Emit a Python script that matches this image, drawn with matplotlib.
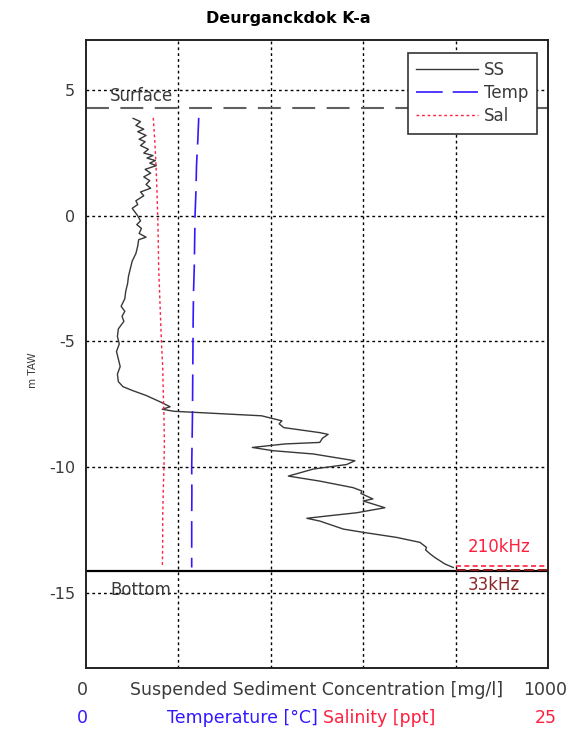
import matplotlib
matplotlib.use("Agg")
import matplotlib.pyplot as plt

plt.rcParams['font.family'] = ['DejaVu Sans']
plt.rcParams['axes.unicode_minus'] = False

# suspended sediment profile (depth m TAW, mg/l)
ss_depth = [3.88, 3.75, 3.6, 3.45, 3.35, 3.2, 3.05, 2.95, 2.8, 2.65, 2.5, 2.4, 2.3, 2.2, 2.1, 2.0,
            1.85, 1.7, 1.55, 1.4, 1.25, 1.1, 0.95, 0.8, 0.6, 0.45, 0.3, 0.15, 0.0, -0.2, -0.35, -0.5,
            -0.7, -0.85, -0.95, -1.2, -1.5, -1.8, -2.1, -2.4, -2.7, -3.0, -3.3, -3.6, -3.8, -4.0,
            -4.2, -4.5, -4.8, -5.1, -5.4, -5.7, -6.0, -6.3, -6.6, -6.8, -6.95, -7.15, -7.4, -7.6,
            -7.7, -7.78, -7.96, -8.16, -8.28, -8.43, -8.63, -8.7, -8.85, -9.02, -9.08, -9.22, -9.35,
            -9.48, -9.75, -9.9, -10.08, -10.36, -10.56, -10.82, -10.95, -11.05, -11.27, -11.35,
            -11.62, -11.82, -11.95, -12.04, -12.15, -12.47, -12.6, -12.8, -13.0, -13.2, -13.3,
            -13.46, -13.6, -13.86, -14.0]
ss_conc = [102, 118, 108, 125, 112, 130, 115, 128, 118, 135, 125, 145, 132, 150, 138, 152,
           128, 140, 125, 138, 130, 140, 118, 125, 108, 112, 100, 106, 112, 118, 110, 120,
           115, 130, 114, 112, 108, 100, 96, 92, 90, 86, 84, 76, 84, 78,
           82, 70, 68, 72, 66, 70, 74, 68, 70, 80, 100, 130, 160, 182,
           165, 190, 380, 424, 418, 428, 506, 524, 512, 506, 431, 360, 405,
           492, 582, 564, 492, 438, 506, 578, 597, 595, 621, 600,
           647, 586, 521, 478, 506, 557, 600, 672, 723, 737, 735,
           745, 755, 777, 795]

# temperature and salinity profiles
ts_depth = [3.9, 3.0, 2.0, 1.0, 0.0, -1.0, -2.0, -3.0, -4.0, -5.0, -6.0, -7.0, -8.0, -9.0,
            -10.0, -11.0, -12.0, -13.0, -14.0]
temp = [6.1, 6.05, 5.98, 5.95, 5.9, 5.88, 5.86, 5.82, 5.8, 5.79, 5.78, 5.77, 5.76, 5.74,
        5.72, 5.73, 5.72, 5.72, 5.72]
sal = [3.64, 3.72, 3.79, 3.84, 3.88, 3.91, 3.93, 3.98, 4.03, 4.08, 4.15, 4.18, 4.22, 4.24,
       4.22, 4.18, 4.15, 4.15, 4.13]

surface = 4.3
bottom = -14.12
f210 = -13.95
f33 = -14.08

txt = '#3a3a3a'
blue = '#3318ff'
red = '#ff2040'

fig = plt.figure(figsize=(5.78, 7.29), dpi=100)
ax = fig.add_axes([86/578, 1-668/729, 462/578, 628/729])
ax2 = ax.twiny()

ax.set_xlim(0, 1000)
ax.set_ylim(-18, 7)
ax2.set_xlim(0, 25)

grid_ls = (0, (2, 2.2))
ax.set_xticks([200, 400, 600, 800])
ax.set_yticks([-15, -10, -5, 0, 5])
ax.grid(True, color='black', linestyle=grid_ls, linewidth=1)
ax.set_xticklabels([])
ax.tick_params(axis='x', length=0)
ax.tick_params(axis='y', length=0, labelsize=11.5, colors=txt, pad=8)
ax2.set_xticks([])
for a in (ax, ax2):
    for s in a.spines.values():
        s.set_linewidth(1.2)
        s.set_color('#222222')

# reference lines
ax.axhline(surface, color='#606060', linestyle=(0, (11, 5.5)), linewidth=1.5)
ax.axhline(bottom, color='black', linewidth=1.6)
ax.plot([800, 1000], [f210, f210], color=red, linestyle=(0, (3, 2)), linewidth=1.2)
ax.plot([800, 1000], [f33, f33], color='#8b1a1a', linestyle=(0, (5, 2)), linewidth=1.4)

ax.text(52, 4.77, 'Surface', fontsize=12, color=txt, va='center')
ax.text(52, -14.9, 'Bottom', fontsize=12, color=txt, va='center')
ax.text(827, -13.2, '210kHz', fontsize=12, color=red, va='center')
ax.text(827, -14.7, '33kHz', fontsize=12, color='#8b2525', va='center')

l1, = ax.plot(ss_conc, ss_depth, color='#383838', linewidth=1.0, label='SS')
l2, = ax2.plot(temp, ts_depth, color=blue, linestyle=(0, (16, 6)), linewidth=1.2, label='Temp')
l3, = ax2.plot(sal, ts_depth, color=red, linestyle=(0, (2, 2)), linewidth=1.0, label='Sal')

leg = ax2.legend(handles=[l1, l2, l3], loc='upper right',
                 bbox_to_anchor=((537-86)/462, 1-(53-40)/628), borderaxespad=0,
                 fontsize=12, handlelength=3.7, handletextpad=0.4, labelspacing=0.3,
                 fancybox=False, framealpha=1, edgecolor='#333333', borderpad=0.5)
leg.get_frame().set_linewidth(1.2)
for t in leg.get_texts():
    t.set_color(txt)

fig.text(288/578, 1-18/729, 'Deurganckdok K-a', fontsize=11.5, fontweight='bold',
         ha='center', va='center')
fig.text(33/578, 1-370/729, 'm TAW', fontsize=7.5, rotation=90, ha='center', va='center',
         color=txt)

fig.text(82/578, 1-690/729, '0', fontsize=12.5, ha='center', va='center', color=txt)
fig.text(317/578, 1-690/729, 'Suspended Sediment Concentration [mg/l]', fontsize=12.5,
         ha='center', va='center', color=txt)
fig.text(567/578, 1-690/729, '1000', fontsize=12.5, ha='right', va='center', color=txt)
fig.text(82/578, 1-718/729, '0', fontsize=12.5, ha='center', va='center', color=blue)
fig.text(318/578, 1-718/729, 'Temperature [°C]', fontsize=12.5, ha='right', va='center',
         color=blue)
fig.text(323/578, 1-718/729, 'Salinity [ppt]', fontsize=12.5, ha='left', va='center',
         color=red)
fig.text(557/578, 1-718/729, '25', fontsize=12.5, ha='right', va='center', color=red)

fig.savefig('out.png', dpi=100)
